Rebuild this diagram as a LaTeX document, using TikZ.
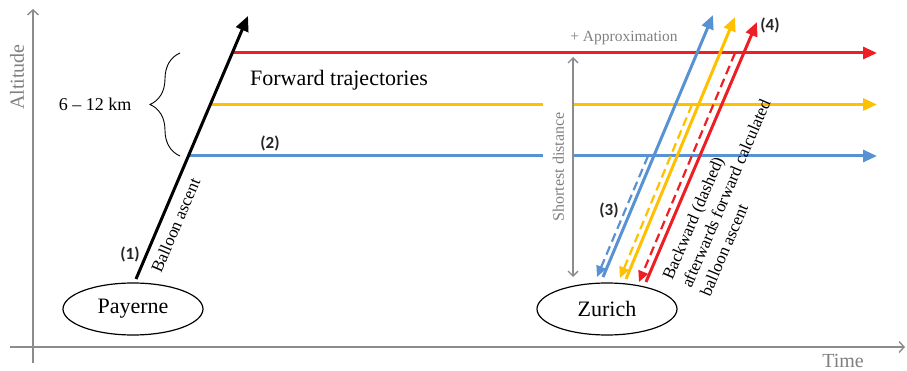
\documentclass[tikz,border=0pt]{standalone}
\usepackage{fontspec}
\setmainfont{Liberation Serif}
\newfontfamily\labfont{Carlito}
\usetikzlibrary{arrows.meta,shapes.geometric,decorations.pathreplacing}
\definecolor{cblue}{RGB}{88,146,211}
\definecolor{cyel}{RGB}{255,192,0}
\definecolor{cred}{RGB}{237,30,36}
\definecolor{cgray}{RGB}{140,140,140}
\definecolor{tgray}{RGB}{128,128,128}
\begin{document}
\begin{tikzpicture}[x=1pt,y=-1pt,
  axis/.style={draw=cgray,line width=1.4pt,-{Straight Barb[length=5pt,width=11pt,line width=1.4pt]}},
  traj/.style={line width=3pt,-{Triangle[length=14pt,width=12pt]}},
  back/.style={line width=2.2pt,dash pattern=on 9pt off 5pt,-{Triangle[length=11pt,width=10pt]}},
  place/.style={draw,ellipse,line width=1.2pt,minimum width=140pt,minimum height=52pt,inner sep=0pt,font=\fontsize{22}{26}\selectfont},
  num/.style={font=\labfont\bfseries\fontsize{17}{20}\selectfont,text=black!85,inner sep=0pt},
  lab/.style={font=\fontsize{17}{20.5}\selectfont,inner sep=0pt},
  graytxt/.style={text=tgray,inner sep=0pt}
]
\useasboundingbox (0,0) rectangle (907,371);
% axes
\coordinate (ya0) at (33,363);
\coordinate (ya1) at (33,9);
\coordinate (xa0) at (10,347);
\coordinate (xa1) at (905,347);
\draw[axis] (ya0) -- (ya1);
\draw[axis] (xa0) -- (xa1);
\node[graytxt,rotate=90,font=\fontsize{20}{24}\selectfont] (alt) at (17,77) {Altitude};
\node[graytxt,font=\fontsize{20}{24}\selectfont] (time) at (843,361) {Time};
% places
\node[place] (pay) at (133,309) {Payerne};
\node[place] (zur) at (607,309) {Zurich};
% forward trajectories
\coordinate (r0) at (232.5,53);   \coordinate (r1) at (877,53);
\coordinate (y0) at (210.5,104.5); \coordinate (y1) at (877,104.5);
\coordinate (bl0) at (188.5,156); \coordinate (bl1) at (877,156);
\draw[traj,cred] (r0) -- (r1);
\draw[traj,cyel] (y0) -- (y1);
\draw[traj,cblue] (bl0) -- (bl1);
% shortest distance
\node[graytxt,rotate=90,fill=white,minimum height=31pt,inner xsep=10pt,font=\fontsize{16}{19}\selectfont] (sd) at (558.5,167) {Shortest distance};
\coordinate (sd0) at (573,57);
\coordinate (sd1) at (573,277);
\draw[draw=cgray,line width=1.4pt,{Straight Barb[length=5pt,width=10pt,line width=1.4pt]}-{Straight Barb[length=5pt,width=10pt,line width=1.4pt]}] (sd0) -- (sd1);
\node[graytxt,font=\fontsize{15.5}{18}\selectfont] (approx) at (624,38) {+ Approximation};
% balloon ascent
\coordinate (ba0) at (136,279);
\coordinate (ba1) at (248,16);
\draw[line width=3pt,-{Triangle[length=15pt,width=13pt]}] (ba0) -- (ba1);
\node[lab,rotate=66.85,anchor=base west] (balt) at (161,274) {Balloon ascent};
% brace
\coordinate (br0) at (180,156);
\coordinate (br1) at (180,53);
\draw[line width=0.9pt,decorate,decoration={brace,amplitude=30pt,aspect=0.5}] (br0) -- (br1);
\node[font=\fontsize{18}{22}\selectfont,inner sep=0pt] (km) at (95,104) {6 -- 12 km};
\node[font=\fontsize{22}{26}\selectfont,inner sep=0pt] (fwd) at (339,80) {Forward trajectories};
% backward (dashed) and forward
\coordinate (bd0) at (648,156);   \coordinate (bd1) at (597,277);
\coordinate (yd0) at (692,104.5); \coordinate (yd1) at (620,278);
\coordinate (rd0) at (735,53);    \coordinate (rd1) at (639,282);
\coordinate (bs0) at (603,277);   \coordinate (bs1) at (713,15);
\coordinate (ys0) at (626,279);   \coordinate (ys1) at (735,17);
\coordinate (rs0) at (646,282);   \coordinate (rs1) at (757,22);
\draw[back,cblue] (bd0) -- (bd1);
\draw[back,cyel] (yd0) -- (yd1);
\draw[back,cred] (rd0) -- (rd1);
\draw[traj,cblue] (bs0) -- (bs1);
\draw[traj,cyel] (ys0) -- (ys1);
\draw[traj,cred] (rs0) -- (rs1);
\node[lab,rotate=66.85,anchor=north west,align=left] (bwd) at (661.3,276.4) {Backward (dashed)\\afterwards forward calculated\\balloon ascent};
% numbers
\node[num] (n1) at (130,254) {(1)};
\node[num] (n2) at (270,143) {(2)};
\node[num] (n3) at (609,210) {(3)};
\node[num] (n4) at (770,25) {(4)};
\end{tikzpicture}
\end{document}
